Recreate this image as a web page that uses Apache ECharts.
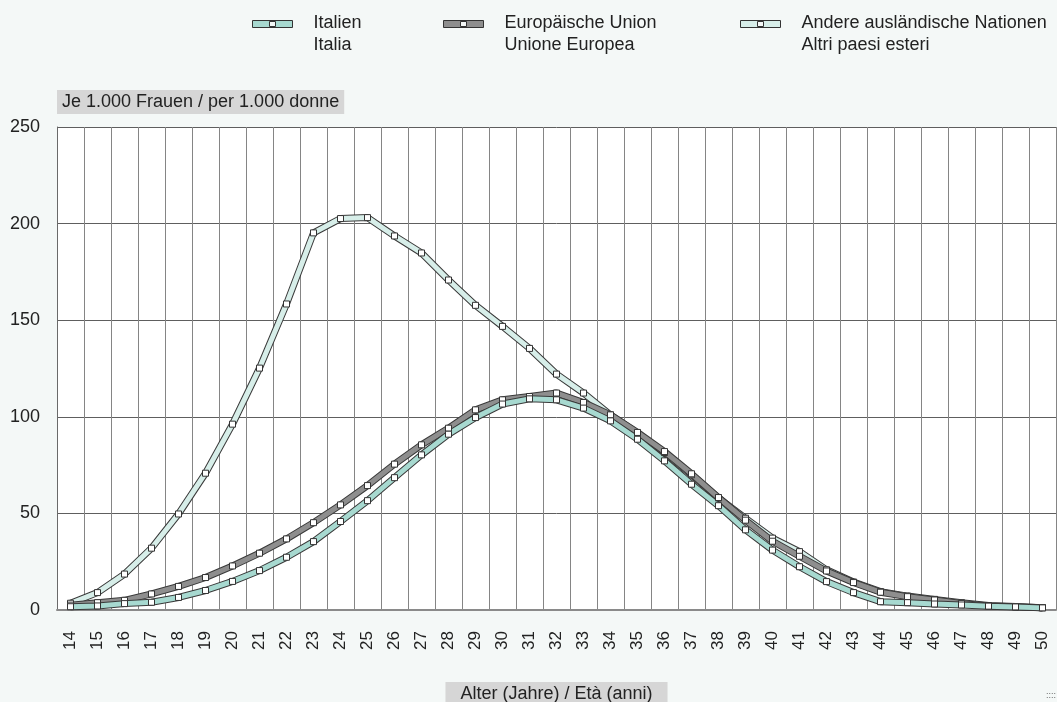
<!DOCTYPE html>
<html>
<head>
<meta charset="utf-8">
<script src="https://cdn.jsdelivr.net/npm/echarts@6/dist/echarts.min.js"></script>
<style>
html,body{margin:0;padding:0;background:#f4f8f7;}
#chart{width:1057px;height:702px;}
</style>
</head>
<body>
<div id="chart"></div>
<script>
// Tick labels (age categories)
const ages = ['14','15','16','17','18','19','20','21','22','23','24','25','26','27','28','29','30','31','32',
  '33','34','35','36','37','38','39','40','41','42','43','44','45','46','47','48','49','50'];

// Births per 1,000 women by age
const italia = [1.7,2.1,3.3,4.0,6.5,10.1,14.8,20.4,27.3,35.4,45.8,56.6,68.5,80.3,91.0,99.6,106.6,109.3,108.8,
  104.5,97.9,88.4,77.2,65.1,54.0,41.5,31.0,22.4,14.7,9.0,4.3,3.8,3.1,2.6,2.0,1.6,1.1];
const eu = [2.5,3.8,5.0,8.3,12.2,16.8,22.8,29.4,36.8,45.2,54.4,64.4,75.5,85.5,94.1,103.6,108.8,110.5,112.3,
  107.4,101.0,91.9,82.0,70.5,58.2,46.5,35.6,27.8,20.2,14.2,9.2,6.9,5.2,3.4,2.1,1.7,1.2];
const andere = [3.5,9.0,18.6,32.0,49.7,70.8,96.2,125.2,158.4,195.2,202.6,203.1,193.6,184.8,170.8,157.7,146.8,135.4,122.1,
  112.3,101.0,91.5,81.5,70.0,58.0,47.5,37.2,30.2,20.8,14.5,9.5,7.2,5.5,3.8,2.3,1.8,1.2];

const nameItalia = 'Italien\nItalia';
const nameEU = 'Europäische Union\nUnione Europea';
const nameAndere = 'Andere ausländische Nationen\nAltri paesi esteri';

const colItalia = '#a7d9d0';
const colEU = '#8e8e8e';
const colAndere = '#d7eee9';

function band(name, data, fill) {
  return [
    {
      name: name + ' (outline)', type: 'line', data: data, symbol: 'none', silent: true,
      lineStyle: { width: 7, color: '#3a3a3a' }, emphasis: { disabled: true }
    },
    {
      name: name, type: 'line', data: data, symbol: 'rect', symbolSize: 6,
      itemStyle: { color: '#ffffff', borderColor: '#333333', borderWidth: 1 },
      lineStyle: { width: 5, color: fill }, emphasis: { disabled: true }
    }
  ];
}

const iconPath = 'path://M0,0H40V7H0Z M17,1V6H23V1Z';
const font = 'Liberation Sans, Arial, sans-serif';

function legendFor(name, fill, left) {
  return {
    left: left, top: 14, padding: 0,
    itemWidth: 40, itemHeight: 7,
    selectedMode: false,
    data: [{ name: name, icon: iconPath, itemStyle: { color: fill, borderColor: '#333333', borderWidth: 1 } }],
    formatter: function (n) {
      const parts = n.split('\n');
      return '{a|' + parts[0] + '}\n{b|' + parts[1] + '}';
    },
    textStyle: {
      fontFamily: font, fontSize: 18, color: '#222', padding: [0, 0, 0, 16],
      rich: {
        a: { fontFamily: font, fontSize: 18, color: '#222', lineHeight: 42 },
        b: { fontFamily: font, fontSize: 18, color: '#222', lineHeight: 2 }
      }
    }
  };
}

const chart = echarts.init(document.getElementById('chart'));
chart.setOption({
  animation: false,
  backgroundColor: '#f4f8f7',
  legend: [
    legendFor(nameItalia, colItalia, 252),
    legendFor(nameEU, colEU, 443),
    legendFor(nameAndere, colAndere, 740)
  ],
  grid: {
    left: 57, right: 1, top: 127, bottom: 92, show: true, backgroundColor: '#ffffff', borderWidth: 0,
    outerBoundsMode: 'none', containLabel: false
  },
  xAxis: {
    type: 'category', data: ages, boundaryGap: true,
    name: 'Alter (Jahre) / Età (anni)', nameLocation: 'middle', nameGap: 72,
    nameTextStyle: { fontFamily: font, fontSize: 18, color: '#222', backgroundColor: '#d6d6d6', padding: [3, 15, 3, 15] },
    axisLine: { lineStyle: { color: '#8a8a8a', width: 2 } },
    axisTick: { show: false },
    axisLabel: { rotate: 90, margin: 21, fontFamily: font, fontSize: 17, color: '#222', interval: 0 },
    splitLine: { show: true, interval: 0, lineStyle: { color: '#858585', width: 1 } }
  },
  yAxis: {
    type: 'value', min: 0, max: 250, interval: 50,
    name: 'Je 1.000 Frauen / per 1.000 donne', nameLocation: 'end', nameGap: 13,
    nameTextStyle: { fontFamily: font, fontSize: 18, color: '#222', align: 'left', backgroundColor: '#d6d6d6', padding: [3, 5, 3, 5] },
    axisLine: { show: true, lineStyle: { color: '#6a6a6a', width: 1 } },
    axisTick: { show: false },
    axisLabel: { margin: 17, fontFamily: font, fontSize: 18, color: '#222' },
    splitLine: { show: true, lineStyle: { color: '#5e5e5e', width: 1 } }
  },
  graphic: [
    { type: 'text', right: 1, bottom: 2, style: { text: '::::', fontSize: 9, fill: '#666', fontFamily: font } }
  ],
  series: [].concat(
    band(nameAndere, andere, colAndere),
    band(nameEU, eu, colEU),
    band(nameItalia, italia, colItalia)
  )
});
</script>
</body>
</html>
